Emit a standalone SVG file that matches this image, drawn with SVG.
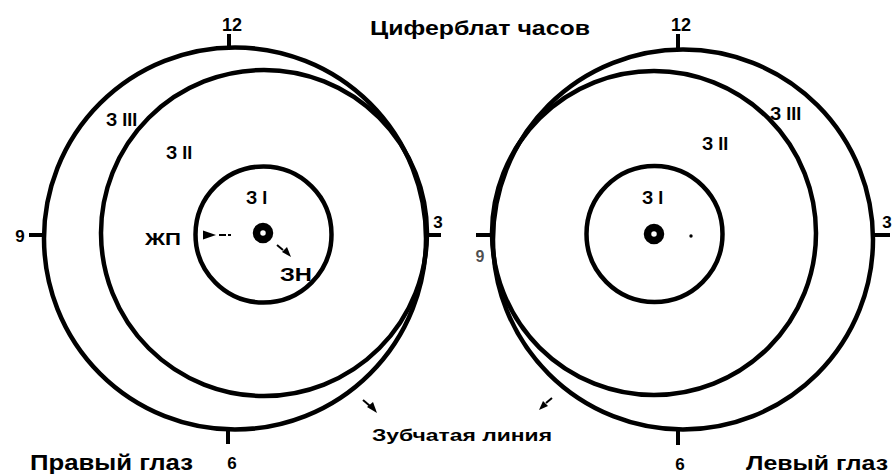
<svg xmlns="http://www.w3.org/2000/svg" width="896" height="474" viewBox="0 0 896 474">
<style>
.c{fill:none;stroke:#000;stroke-width:4.5}
.t{stroke:#000;stroke-width:4;fill:none}
.txt{font-family:"Liberation Sans",Arial,sans-serif;font-weight:bold;fill:#000}
.a{stroke:#000;stroke-width:2;fill:none}
.ring{fill:none;stroke:#000;stroke-width:7.5}
</style>
<rect width="896" height="474" fill="#fff"/>
<g id="right-eye">
<circle class="c" cx="235" cy="238.5" r="191"/>
<circle class="c" cx="264" cy="233" r="163"/>
<circle class="c" cx="263.5" cy="234.5" r="68"/>
<circle class="ring" cx="263" cy="233" r="6.5"/>
<line class="t" x1="229" y1="34" x2="229" y2="49"/>
<line class="t" x1="29" y1="235" x2="45" y2="235"/>
<line class="t" x1="425" y1="235" x2="441" y2="235"/>
<line class="t" x1="228" y1="428" x2="228" y2="444"/>
<text class="txt" x="232" y="31" font-size="18" text-anchor="middle">12</text>
<text class="txt" x="20" y="242" font-size="17" text-anchor="middle">9</text>
<text class="txt" x="438" y="228" font-size="17" text-anchor="middle">3</text>
<text class="txt" x="232" y="469" font-size="17" text-anchor="middle">6</text>
<text class="txt" x="106" y="126" font-size="18">З III</text>
<text class="txt" x="166" y="159" font-size="18">З II</text>
<text class="txt" x="246" y="204" font-size="18">З I</text>
<text class="txt" x="145" y="245" font-size="17" textLength="36" lengthAdjust="spacingAndGlyphs">ЖП</text>
<text class="txt" x="280" y="281" font-size="18" textLength="32" lengthAdjust="spacingAndGlyphs">ЗН</text>
<text class="txt" x="30" y="470" font-size="22" textLength="163" lengthAdjust="spacingAndGlyphs">Правый глаз</text>
</g>
<g id="left-eye">
<circle class="c" cx="683" cy="239.5" r="190"/>
<circle class="c" cx="654" cy="233" r="162"/>
<circle class="c" cx="654.5" cy="234" r="68"/>
<circle class="ring" cx="654" cy="234" r="6.5"/>
<circle cx="691" cy="236" r="1.7" fill="#000"/>
<line class="t" x1="678" y1="34" x2="678" y2="50"/>
<line class="t" x1="476" y1="235" x2="494" y2="235"/>
<line class="t" x1="872" y1="235" x2="890" y2="235"/>
<line class="t" x1="678" y1="429" x2="678" y2="445"/>
<text class="txt" x="681" y="31" font-size="18" text-anchor="middle">12</text>
<text class="txt" x="480" y="262" font-size="16" text-anchor="middle" fill-opacity="0.7">9</text>
<text class="txt" x="887" y="228" font-size="17" text-anchor="middle">3</text>
<text class="txt" x="680" y="470" font-size="17" text-anchor="middle">6</text>
<text class="txt" x="770" y="120" font-size="18">З III</text>
<text class="txt" x="702" y="150" font-size="18">З II</text>
<text class="txt" x="642" y="204" font-size="18">З I</text>
<text class="txt" x="746" y="470" font-size="21" textLength="142" lengthAdjust="spacingAndGlyphs">Левый глаз</text>
</g>
<g id="title">
<text class="txt" x="370" y="35" font-size="20" textLength="220" lengthAdjust="spacingAndGlyphs">Циферблат часов</text>
</g>
<g id="jagged-label">
<text class="txt" x="372" y="441" font-size="17" textLength="180" lengthAdjust="spacingAndGlyphs">Зубчатая линия</text>
</g>
<g id="connectors">
<polygon points="203,230.5 203,239.5 216,235" fill="#000"/>
<line class="a" x1="219" y1="235" x2="226" y2="235"/>
<line class="a" x1="228" y1="235" x2="231" y2="235"/>
<line class="a" x1="277" y1="245" x2="283" y2="250"/>
<polygon points="282,252 287,247 291,257" fill="#000"/>
<line class="a" x1="363" y1="400" x2="370" y2="406"/>
<polygon points="367,407 373,402 377,413" fill="#000"/>
<line class="a" x1="552" y1="398" x2="546" y2="403"/>
<polygon points="543,401 548,406 539,410" fill="#000"/>
</g>
</svg>
